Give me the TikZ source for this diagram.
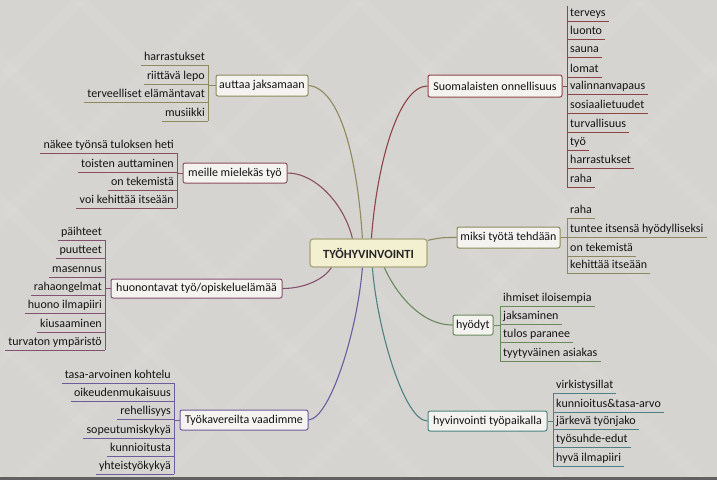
\documentclass[tikz,border=0pt]{standalone}
\usepackage{fontspec}
\setmainfont{Carlito}
\usetikzlibrary{calc}
\definecolor{bg}{HTML}{D6D4D1}
\definecolor{boxfill}{HTML}{F4F3EF}
\definecolor{ctrfill}{HTML}{F3F0D2}
\definecolor{ctrdraw}{HTML}{A9A47C}
\definecolor{cA}{HTML}{8E8A5E}
\definecolor{cB}{HTML}{8C4E5E}
\definecolor{cC}{HTML}{845070}
\definecolor{cD}{HTML}{6C5C9E}
\definecolor{cE}{HTML}{8E4444}
\definecolor{cF}{HTML}{8C8A5C}
\definecolor{cG}{HTML}{6A8A5E}
\definecolor{cH}{HTML}{4E8282}
\begin{document}
\begin{tikzpicture}[x=1pt,y=-1pt,
  leaf/.style={inner xsep=3pt, inner ysep=1.5pt, text height=9pt, text depth=3pt,
    font=\fontsize{12}{14}\selectfont, text=black!92},
  topic/.style={draw, rounded corners=2pt, fill=boxfill, inner sep=0pt, line width=1pt,
    font=\fontsize{12}{14}\selectfont, text=black!92},
  conn/.style={line width=1.1pt},
  ul/.style={line width=0.9pt}]
% background
\fill[bg] (0,0) rectangle (717,480);
\begin{scope}
\clip (0,0) rectangle (717,480);
\foreach \k in {-480,-340,...,800} {
  \draw[white, opacity=0.05, line width=12pt] (\k,0) -- ++(480,480);
  \draw[white, opacity=0.05, line width=12pt] (\k,0) -- ++(-480,480);
}
\end{scope}
\fill[black!62] (0,477) rectangle (717,480);
\useasboundingbox (0,0) rectangle (717,480);

% central node
\node[draw=ctrdraw, fill=ctrfill, rounded corners=3pt, line width=1.2pt,
  minimum width=117pt, minimum height=28pt, inner sep=0pt,
  font=\fontsize{12.5}{15}\selectfont\bfseries, text=black!85] (ctr) at (368.5,253) {TYÖHYVINVOINTI};

% topic nodes
\node[topic, draw=cA, minimum width=92pt, minimum height=21pt] (auttaa) at (262,85.5) {auttaa jaksamaan};
\node[topic, draw=cB, minimum width=104pt, minimum height=20pt] (meille) at (235,173) {meille mielekäs työ};
\node[topic, draw=cC, minimum width=171pt, minimum height=19pt] (huon) at (196.5,288.5) {huonontavat työ/opiskeluelämää};
\node[topic, draw=cD, minimum width=128pt, minimum height=20pt] (tyok) at (244,420) {Työkavereilta vaadimme};
\node[topic, draw=cE, minimum width=134pt, minimum height=22pt] (suom) at (495,86) {Suomalaisten onnellisuus};
\node[topic, draw=cF, minimum width=103pt, minimum height=21pt] (miksi) at (508.5,237.5) {miksi työtä tehdään};
\node[topic, draw=cG, minimum width=40pt, minimum height=20pt] (hyod) at (473,325) {hyödyt};
\node[topic, draw=cH, minimum width=119pt, minimum height=20pt] (hyvin) at (487.5,421) {hyvinvointi työpaikalla};

% connectors to center
\draw[conn, cA] (auttaa.east) .. controls +(32,3) and +(-5,-79) .. ($(ctr.north west)+(53,0)$);
\draw[conn, cB] (meille.east) .. controls +(28,0) and +(-8,-34) .. ($(ctr.north west)+(43,0)$);
\draw[conn, cE] (suom.west) .. controls +(-28,0) and +(6,-79) .. ($(ctr.north west)+(62,0)$);
\draw[conn, cC] (huon.east) .. controls +(23,0) and +(-7,11) .. ($(ctr.south west)+(22,0)$);
\draw[conn, cD] (tyok.east) .. controls +(22,-2) and +(-5,63) .. ($(ctr.south west)+(53,0)$);
\draw[conn, cH] (hyvin.west) .. controls +(-23,0) and +(5,63) .. ($(ctr.south west)+(63,0)$);
\draw[conn, cG] (hyod.west) .. controls +(-33,0) and +(10,23) .. ($(ctr.south west)+(75,0)$);
\draw[conn, cF] ($(ctr.north east)+(0,2)$) .. controls +(13,-3) and +(-12,0) .. (miksi.west);

% ---- left groups ----
% auttaa jaksamaan
\foreach \t/\y [count=\i] in {harrastukset/65, riittävä lepo/84, terveelliset elämäntavat/102, musiikki/121} {
  \node[leaf, anchor=south east] (a\i) at (208,\y) {\t};
  \draw[ul, cA] (a\i.south west) -- (a\i.south east);
}
\draw[ul, cA] (a1.south east) -- (a4.south east);
\draw[ul, cA] (auttaa.west) -- (auttaa.west -| a1.south east);

% meille mielekäs työ
\foreach \t/\y [count=\i] in {näkee työnsä tuloksen heti/153, toisten auttaminen/172, on tekemistä/190, voi kehittää itseään/208} {
  \node[leaf, anchor=south east] (b\i) at (177,\y) {\t};
  \draw[ul, cB] (b\i.south west) -- (b\i.south east);
}
\draw[ul, cB] (b1.south east) -- (b4.south east);
\draw[ul, cB] (meille.west) -- (meille.west -| b1.south east);

% huonontavat
\foreach \t/\y [count=\i] in {päihteet/240, puutteet/258, masennus/277, rahaongelmat/295, huono ilmapiiri/313, kiusaaminen/332, turvaton ympäristö/350} {
  \node[leaf, anchor=south east] (c\i) at (105,\y) {\t};
  \draw[ul, cC] (c\i.south west) -- (c\i.south east);
}
\draw[ul, cC] (c1.south east) -- (c7.south east);
\draw[ul, cC] (huon.west) -- (huon.west -| c1.south east);

% Työkavereilta vaadimme
\foreach \t/\y [count=\i] in {tasa-arvoinen kohtelu/383, oikeudenmukaisuus/401, rehellisyys/419, sopeutumiskykyä/438, kunnioitusta/456, yhteistyökykyä/474} {
  \node[leaf, anchor=south east] (d\i) at (174,\y) {\t};
  \draw[ul, cD] (d\i.south west) -- (d\i.south east);
}
\draw[ul, cD] (d1.south east) -- (d6.south east);
\draw[ul, cD] (tyok.west) -- (tyok.west -| d1.south east);

% ---- right groups ----
% Suomalaisten onnellisuus
\foreach \t/\y [count=\i] in {terveys/21, luonto/39, sauna/57, lomat/77, valinnanvapaus/94, sosiaalietuudet/113, turvallisuus/132, työ/150, harrastukset/168, raha/187} {
  \node[leaf, anchor=south west] (e\i) at (567,\y) {\t};
  \draw[ul, cE] (e\i.south west) -- (e\i.south east);
}
\draw[ul, cE] (e1.north west) -- (e10.south west);
\draw[ul, cE] (suom.east) -- (suom.east -| e1.south west);

% miksi työtä tehdään
\foreach \t/\y [count=\i] in {raha/218, tuntee itsensä hyödylliseksi/237, on tekemistä/256, kehittää itseään/273} {
  \node[leaf, anchor=south west] (f\i) at (567,\y) {\t};
  \draw[ul, cF] (f\i.south west) -- (f\i.south east);
}
\draw[ul, cF] (f1.south west) -- (f4.south west);
\draw[ul, cF] (miksi.east) -- (miksi.east -| f1.south west);

% hyödyt
\foreach \t/\y [count=\i] in {ihmiset iloisempia/306, jaksaminen/324, tulos paranee/342, tyytyväinen asiakas/361} {
  \node[leaf, anchor=south west] (g\i) at (500,\y) {\t};
  \draw[ul, cG] (g\i.south west) -- (g\i.south east);
}
\draw[ul, cG] (g1.south west) -- (g4.south west);
\draw[ul, cG] (hyod.east) -- (hyod.east -| g1.south west);

% hyvinvointi työpaikalla
\foreach \t/\y [count=\i] in {virkistysillat/393, kunnioitus\&tasa-arvo/412, järkevä työnjako/429, työsuhde-edut/447, hyvä ilmapiiri/466} {
  \node[leaf, anchor=south west] (h\i) at (553,\y) {\t};
  \draw[ul, cH] (h\i.south west) -- (h\i.south east);
}
\draw[ul, cH] (h1.south west) -- (h5.south west);
\draw[ul, cH] (hyvin.east) -- (hyvin.east -| h1.south west);
\end{tikzpicture}
\end{document}
